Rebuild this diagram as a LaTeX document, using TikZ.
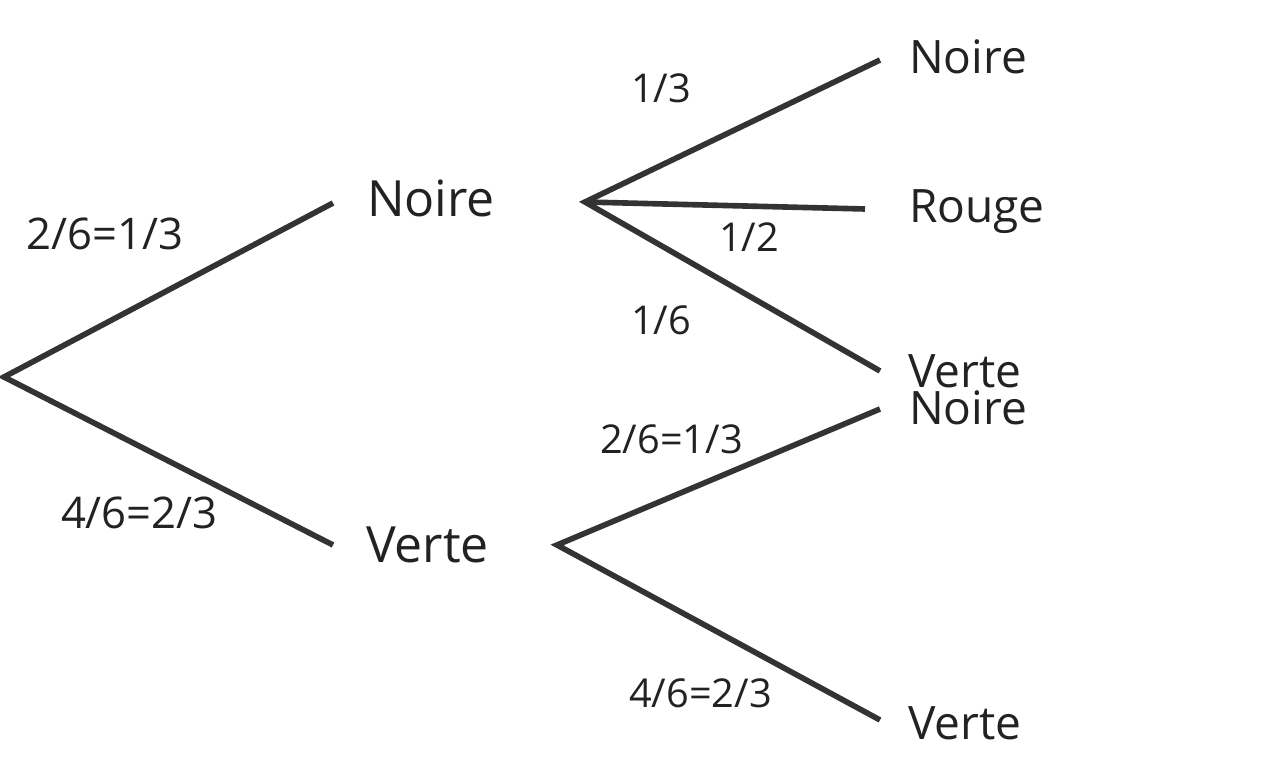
\documentclass[tikz,border=0pt]{standalone}
\usepackage{fontspec}
\setmainfont{Open Sans}
\definecolor{ink}{HTML}{333333}
\definecolor{txt}{HTML}{222222}
\begin{document}
\begin{tikzpicture}[x=0.01cm,y=-0.01cm,
  branch/.style={draw=ink,line width=1.6pt,line cap=butt},
  lbl/.style={anchor=base west,inner sep=0pt,outer sep=0pt,text=txt},
  big/.style={lbl,font=\fontsize{14.2pt}{16pt}\selectfont},
  mid/.style={lbl,font=\fontsize{13.1pt}{15pt}\selectfont},
  prob/.style={lbl,font=\fontsize{12.4pt}{14pt}\selectfont},
  probs/.style={lbl,font=\fontsize{11.3pt}{13pt}\selectfont}]
\useasboundingbox (0,0) rectangle (1278,782);
% joints
\coordinate (r) at (4,377);
\coordinate (n1e) at (333,203);
\coordinate (v1e) at (333,545);
\coordinate (n1s) at (585,202);
\coordinate (v1s) at (557,545);
\coordinate (nne) at (880,60);
\coordinate (nre) at (865,209);
\coordinate (nve) at (880,371);
\coordinate (vne) at (880,409);
\coordinate (vve) at (880,720);
% branches
\draw[branch] (n1e) -- (r) -- (v1e);
\draw[branch] (nne) -- (n1s) -- (nve);
\draw[branch] (n1s) -- (nre);
\draw[branch] (vne) -- (v1s) -- (vve);
% outcome labels
\node[big] (N1) at (367,217) {Noire};
\node[big] (V1) at (366,563) {Verte};
\node[mid] (NN) at (909,74) {Noire};
\node[mid] (NR) at (909,223) {Rouge};
\node[mid] (NV) at (908,387) {Verte};
\node[mid] (VN) at (909,425) {Noire};
\node[mid] (VV) at (908,739) {Verte};
% probabilities
\node[prob] (p1) at (27,250) {2/6=1/3};
\node[prob] (p2) at (61,528) {4/6=2/3};
\node[probs] (p3) at (631,103) {1/3};
\node[probs] (p4) at (719,252) {1/2};
\node[probs] (p5) at (631,335) {1/6};
\node[probs] (p6) at (600,453) {2/6=1/3};
\node[probs] (p7) at (629,707) {4/6=2/3};
\end{tikzpicture}
\end{document}
